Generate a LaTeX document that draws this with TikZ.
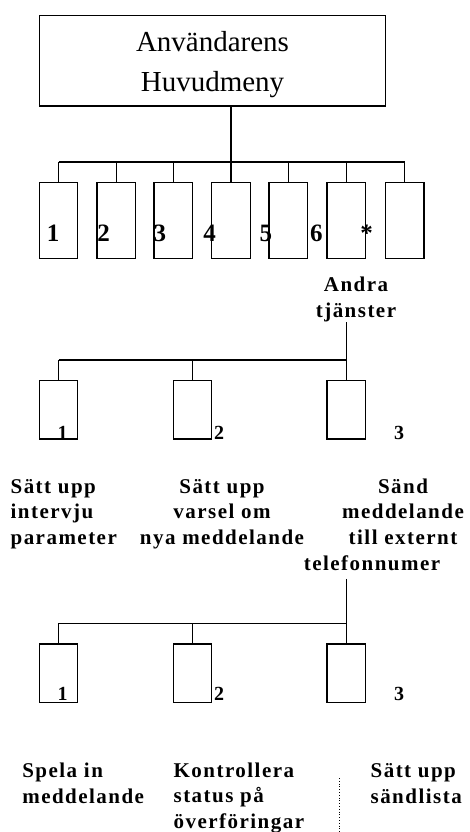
\documentclass[tikz,border=0pt]{standalone}
\usepackage{fontspec}
\setmainfont{Liberation Serif}[BoldFont={Liberation Serif Bold}]
\newfontfamily\spaced{Liberation Serif}[LetterSpace=7,BoldFont={Liberation Serif Bold}]
\begin{document}
\begin{tikzpicture}[x=1pt,y=-1pt,line width=1.3pt,
  box/.style={draw,minimum width=38.5pt,minimum height=75.7pt,inner sep=0pt,anchor=north},
  sbox/.style={draw,minimum width=38.3pt,minimum height=58.3pt,inner sep=0pt,anchor=north},
  num/.style={font=\bfseries\fontsize{25}{25}\selectfont,inner sep=0pt,anchor=base},
  snum/.style={font=\bfseries\fontsize{20}{20}\selectfont,inner sep=0pt,anchor=base},
  lbl/.style={font=\spaced\bfseries\fontsize{21}{25.5}\selectfont,inner sep=0pt,anchor=base},
  wire/.style={line width=1.3pt},
  dotline/.style={dotted,line width=0.8pt}]
\useasboundingbox (0,0) rectangle (469,832);
% top box
\node[draw,minimum width=346.4pt,minimum height=90.3pt,align=center,inner sep=0pt,
  font=\fontsize{29}{40}\selectfont] (top) at (212.5,60.8) {\rule{0pt}{28pt}Användarens\\Huvudmeny};
% level 1 boxes
\node[box] (b1) at (58.5,182) {};
\node[box] (b2) at (116.2,182) {};
\node[box] (b3) at (173.3,182) {};
\node[box] (b4) at (231.0,182) {};
\node[box] (b5) at (288.2,182) {};
\node[box] (b6) at (346.2,182) {};
\node[box] (b7) at (404.7,182) {};
\coordinate (bus1) at (231.0,162);
\draw[wire] (top.south -| b4.north) -- (b4.north);
\draw[wire] (b1.north |- bus1) -- (b7.north |- bus1);
\foreach \i in {1,2,3,5,6,7} \draw[wire] (b\i.north |- bus1) -- (b\i.north);
% level 1 numbers
\node[num] (n1) at (53,241.3) {1};
\node[num] (n2) at (103.5,241.3) {2};
\node[num] (n3) at (159.8,241.3) {3};
\node[num] (n4) at (209.7,241.3) {4};
\node[num] (n5) at (265.8,241.3) {5};
\node[num] (n6) at (316.3,241.3) {6};
\node[num] (n7) at (366.7,241.3) {*};
% Andra tjänster
\node[lbl,align=center] (andra) at (356,317) {Andra\\tjänster};
% level 2 boxes
\node[sbox] (c1) at (58.5,380) {};
\node[sbox] (c2) at (192.3,380) {};
\node[sbox] (c3) at (346.2,380) {};
\coordinate (bus2) at (346.2,360);
\draw[wire] (c3.north |- andra.south) -- (c3.north);
\draw[wire] (c1.north |- bus2) -- (c3.north |- bus2);
\draw[wire] (c1.north |- bus2) -- (c1.north);
\draw[wire] (c2.north |- bus2) -- (c2.north);
\node[snum] (m1) at (62.7,439) {1};
\node[snum] (m2) at (219,439) {2};
\node[snum] (m3) at (399,439) {3};
% level 2 texts
\node[lbl,align=left,anchor=base west] (s1) at (10,544) {Sätt upp\\intervju\\parameter};
\node[lbl,align=center] (s2) at (222,544) {Sätt upp\\varsel om\\nya meddelande};
\node[lbl,align=center] (s3) at (403,544) {Sänd\\meddelande\\till externt};
\node[lbl] (t3) at (372,570) {telefonnumer};
% level 3 boxes
\node[sbox] (d1) at (58.5,643.3) {};
\node[sbox] (d2) at (192.3,643.3) {};
\node[sbox] (d3) at (346.2,643.3) {};
\coordinate (bus3) at (346.2,623.3);
\draw[wire] ([yshift=-8pt]d3.north |- t3.south) -- (d3.north);
\draw[wire] (d1.north |- bus3) -- (d3.north |- bus3);
\draw[wire] (d1.north |- bus3) -- (d1.north);
\draw[wire] (d2.north |- bus3) -- (d2.north);
\node[snum] (k1) at (62.7,700) {1};
\node[snum] (k2) at (219,700) {2};
\node[snum] (k3) at (399,700) {3};
% level 3 texts
\node[lbl,align=left,anchor=base west] (p1) at (21.7,803.3) {Spela in\\meddelande};
\node[lbl,align=left,anchor=base west] (p2) at (173,828.3) {Kontrollera\\status på\\överföringar};
\node[lbl,align=left,anchor=base west] (p3) at (370,803.3) {Sätt upp\\sändlista};
% dotted line
\coordinate (dtop) at (339,778);
\coordinate (dbot) at (339,832);
\draw[dotline] (dtop) -- (dbot);
\end{tikzpicture}
\end{document}
